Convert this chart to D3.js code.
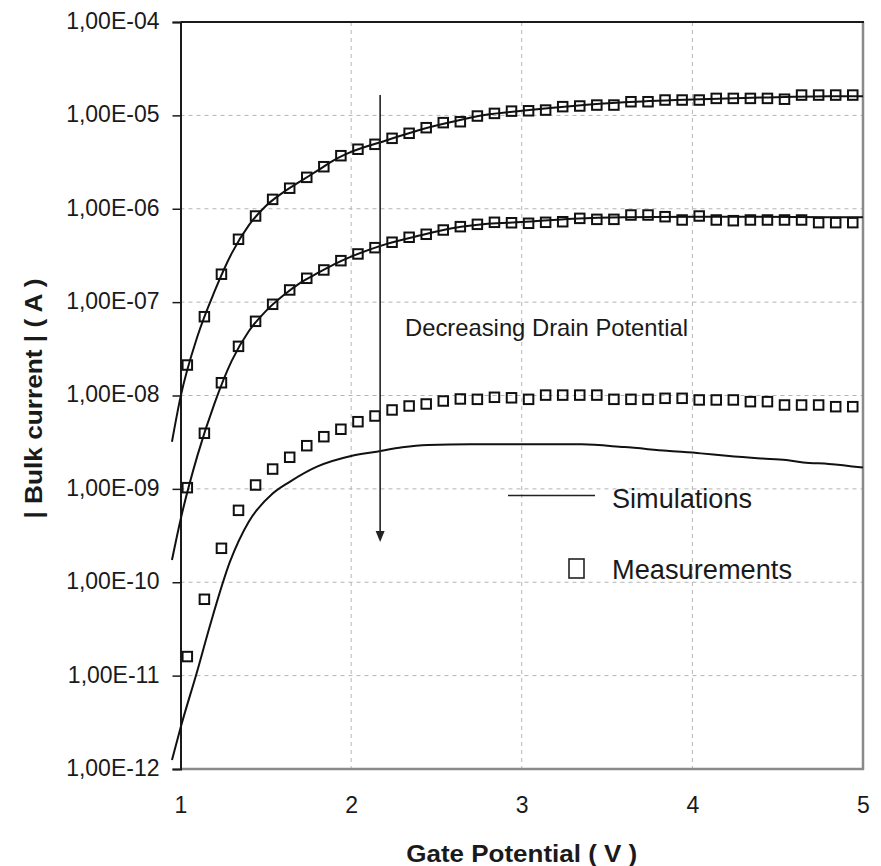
<!DOCTYPE html>
<html>
<head>
<meta charset="utf-8">
<script src="https://cdn.jsdelivr.net/npm/d3@7"></script>
<style>
  body { margin: 0; background: #fff; }
  svg { display: block; }
  text { font-family: "Liberation Sans", Arial, sans-serif; fill: #1a1a1a; }
</style>
</head>
<body>
<svg id="chart" width="881" height="866"></svg>
<script>
// ---- tick values and labels ----
const xTickValues = [1, 2, 3, 4, 5];
const yTickValues = [1e-4, 1e-5, 1e-6, 1e-7, 1e-8, 1e-9, 1e-10, 1e-11, 1e-12];
const yTickLabels = ["1,00E-04", "1,00E-05", "1,00E-06", "1,00E-07", "1,00E-08",
                     "1,00E-09", "1,00E-10", "1,00E-11", "1,00E-12"];

// ---- measured bulk current (A) vs gate potential (V) ----
const measGate = [1.04, 1.14, 1.24, 1.34, 1.44, 1.54, 1.64, 1.74, 1.84, 1.94,
                  2.04, 2.14, 2.24, 2.34, 2.44, 2.54, 2.64, 2.74, 2.84, 2.94,
                  3.04, 3.14, 3.24, 3.34, 3.44, 3.54, 3.64, 3.74, 3.84, 3.94,
                  4.04, 4.14, 4.24, 4.34, 4.44, 4.54, 4.64, 4.74, 4.84, 4.94];
const measHigh = [2.12e-8, 6.98e-8, 1.99e-7, 4.71e-7, 8.36e-7, 1.26e-6, 1.66e-6, 2.17e-6, 2.82e-6, 3.70e-6,
                  4.34e-6, 4.90e-6, 5.68e-6, 6.43e-6, 7.38e-6, 8.36e-6, 8.55e-6, 9.84e-6, 1.05e-5, 1.11e-5,
                  1.12e-5, 1.14e-5, 1.24e-5, 1.26e-5, 1.29e-5, 1.29e-5, 1.40e-5, 1.40e-5, 1.46e-5, 1.46e-5,
                  1.46e-5, 1.52e-5, 1.52e-5, 1.52e-5, 1.52e-5, 1.49e-5, 1.65e-5, 1.65e-5, 1.65e-5, 1.65e-5];
const measMid  = [1.03e-9, 3.94e-9, 1.37e-8, 3.36e-8, 6.23e-8, 9.48e-8, 1.35e-7, 1.80e-7, 2.21e-7, 2.78e-7,
                  3.28e-7, 3.83e-7, 4.38e-7, 4.95e-7, 5.33e-7, 5.92e-7, 6.43e-7, 6.81e-7, 7.16e-7, 7.08e-7,
                  6.99e-7, 7.16e-7, 7.26e-7, 7.89e-7, 7.70e-7, 7.70e-7, 8.57e-7, 8.57e-7, 8.22e-7, 7.58e-7,
                  8.36e-7, 7.58e-7, 7.45e-7, 7.58e-7, 7.58e-7, 7.58e-7, 7.58e-7, 7.10e-7, 7.10e-7, 7.10e-7];
const measLow  = [1.60e-11, 6.57e-11, 2.31e-10, 5.89e-10, 1.10e-9, 1.63e-9, 2.18e-9, 2.90e-9, 3.62e-9, 4.35e-9,
                  5.24e-9, 6.03e-9, 7.00e-9, 7.72e-9, 8.11e-9, 8.73e-9, 9.18e-9, 9.10e-9, 9.57e-9, 9.45e-9,
                  9.10e-9, 1.01e-8, 1.01e-8, 1.01e-8, 1.01e-8, 9.10e-9, 9.10e-9, 9.10e-9, 9.33e-9, 9.33e-9,
                  8.96e-9, 8.96e-9, 8.96e-9, 8.59e-9, 8.59e-9, 7.91e-9, 7.91e-9, 7.91e-9, 7.59e-9, 7.59e-9];

// ---- simulated bulk current (A) ----
const simGate = [0.95, 1.0, 1.1, 1.2, 1.3, 1.4, 1.5, 1.6, 1.7, 1.8, 1.9, 2.0,
                 2.2, 2.4, 2.6, 2.8, 3.0, 3.3, 3.6, 4.0, 4.4, 4.8, 5.0];
const simHigh = [3.2e-9, 9.6e-9, 4.34e-8, 1.31e-7, 3.33e-7, 6.64e-7, 1.07e-6, 1.49e-6, 1.95e-6, 2.54e-6, 3.32e-6, 4.06e-6,
                 5.35e-6, 6.98e-6, 8.6e-6, 1.02e-5, 1.12e-5, 1.26e-5, 1.38e-5, 1.48e-5, 1.55e-5, 1.6e-5, 1.6e-5];
const simMid  = [1.73e-10, 4.65e-10, 2.30e-9, 8.3e-9, 2.35e-8, 4.88e-8, 8.02e-8, 1.17e-7, 1.60e-7, 2.03e-7, 2.54e-7, 3.07e-7,
                 4.15e-7, 5.16e-7, 6.22e-7, 6.9e-7, 7.2e-7, 7.8e-7, 8.1e-7, 8.2e-7, 8.2e-7, 8.1e-7, 8.1e-7];
const simLowGate = [0.95, 1.0, 1.1, 1.17, 1.29, 1.4, 1.54, 1.64, 1.8, 2.0, 2.15, 2.3, 2.45,
                    2.7, 3.0, 3.35, 3.6, 3.85, 4.05, 4.2, 4.4, 4.55, 4.65, 4.8, 5.0];
const simLow  = [1.25e-12, 2.75e-12, 1.15e-11, 3.3e-11, 1.66e-10, 4.45e-10, 8.9e-10, 1.19e-9, 1.73e-9, 2.25e-9, 2.5e-9, 2.79e-9, 2.95e-9,
                 3.0e-9, 3.0e-9, 3.0e-9, 2.8e-9, 2.56e-9, 2.4e-9, 2.26e-9, 2.12e-9, 2.04e-9, 1.92e-9, 1.85e-9, 1.69e-9];

// ---- "decreasing drain potential" arrow, in data units ----
const arrowGate = 2.17;
const arrowFrom = 1.65e-5;
const arrowTo = 2.7e-10;

// ---- layout ----
const plot = { left: 180.5, right: 863, top: 22, bottom: 769 };
const svg = d3.select("#chart");

const x = d3.scaleLinear().domain([1, 5]).range([plot.left, plot.right]);
const y = d3.scaleLog().domain([1e-12, 1e-4]).range([plot.bottom, plot.top]);

// grid
const grid = svg.append("g").attr("stroke", "#b4b4b4").attr("stroke-width", 1)
  .attr("stroke-dasharray", "4,4");
grid.selectAll("line.h").data(yTickValues.slice(1, -1)).join("line")
  .attr("x1", plot.left).attr("x2", plot.right)
  .attr("y1", d => y(d)).attr("y2", d => y(d));
grid.selectAll("line.v").data(xTickValues.slice(1, -1)).join("line")
  .attr("y1", plot.top).attr("y2", plot.bottom)
  .attr("x1", d => x(d)).attr("x2", d => x(d));

// plot frame: gray right/bottom, black left/top
svg.append("line").attr("x1", plot.right).attr("x2", plot.right)
  .attr("y1", plot.top).attr("y2", plot.bottom + 1)
  .attr("stroke", "#8a8a8a").attr("stroke-width", 2.5);
svg.append("line").attr("x1", plot.left).attr("x2", plot.right + 1)
  .attr("y1", plot.bottom).attr("y2", plot.bottom)
  .attr("stroke", "#8a8a8a").attr("stroke-width", 2.5);
svg.append("line").attr("x1", plot.left).attr("x2", plot.right + 1)
  .attr("y1", plot.top).attr("y2", plot.top)
  .attr("stroke", "#1a1a1a").attr("stroke-width", 2);

// y axis
const yAxis = d3.axisLeft(y).tickValues(yTickValues)
  .tickFormat((d, i) => yTickLabels[i]).tickSize(8).tickPadding(13);
const gy = svg.append("g").attr("transform", `translate(${plot.left},0)`).call(yAxis);
gy.select(".domain").attr("stroke", "#1a1a1a").attr("stroke-width", 2);
gy.selectAll(".tick line").attr("stroke", "#1a1a1a").attr("stroke-width", 1.5);
gy.selectAll(".tick text").attr("font-size", 23).attr("font-family", null)
  .attr("fill", "#1a1a1a").attr("dy", "0.28em");

// x axis (labels only)
const xAxis = d3.axisBottom(x).tickValues(xTickValues).tickFormat(d3.format("d"))
  .tickSize(0).tickPadding(28);
const gx = svg.append("g").attr("transform", `translate(0,${plot.bottom})`).call(xAxis);
gx.select(".domain").remove();
gx.selectAll(".tick text").attr("font-size", 23).attr("font-family", null).attr("fill", "#1a1a1a");

// axis titles
svg.append("text")
  .attr("x", (plot.left + plot.right) / 2).attr("y", 862)
  .attr("text-anchor", "middle").attr("font-size", 24).attr("font-weight", "bold")
  .attr("textLength", 231).attr("lengthAdjust", "spacingAndGlyphs")
  .text("Gate Potential ( V )");
svg.append("text")
  .attr("transform", `translate(42,${(plot.top + plot.bottom) / 2 + 3}) rotate(-90)`)
  .attr("text-anchor", "middle").attr("font-size", 24).attr("font-weight", "bold")
  .attr("textLength", 240).attr("lengthAdjust", "spacingAndGlyphs")
  .text("| Bulk current |  ( A )");

// simulation curves
const simLine = d3.line().x(d => x(d[0])).y(d => y(d[1])).curve(d3.curveMonotoneX);
const simSeries = [
  d3.zip(simGate, simHigh),
  d3.zip(simGate, simMid),
  d3.zip(simLowGate, simLow)
];
svg.append("g").selectAll("path").data(simSeries).join("path")
  .attr("d", simLine).attr("fill", "none")
  .attr("stroke", "#111").attr("stroke-width", 2);

// measurement squares
const sq = 9.5;
const measSeries = [measHigh, measMid, measLow];
svg.append("g").selectAll("g").data(measSeries).join("g")
  .selectAll("rect").data(vals => vals.map((v, i) => [measGate[i], v])).join("rect")
  .attr("x", d => x(d[0]) - sq / 2).attr("y", d => y(d[1]) - sq / 2)
  .attr("width", sq).attr("height", sq)
  .attr("fill", "none").attr("stroke", "#111").attr("stroke-width", 2);

// arrow
svg.append("defs").append("marker")
  .attr("id", "head").attr("viewBox", "0 0 10 12").attr("refX", 5).attr("refY", 12)
  .attr("markerWidth", 9).attr("markerHeight", 11).attr("markerUnits", "userSpaceOnUse")
  .attr("orient", "auto-start-reverse")
  .append("path").attr("d", "M0,0 L10,0 L5,12 Z").attr("fill", "#222");
svg.append("line")
  .attr("x1", x(arrowGate)).attr("x2", x(arrowGate))
  .attr("y1", y(arrowFrom)).attr("y2", y(arrowTo) - 10)
  .attr("stroke", "#222").attr("stroke-width", 1.6);
svg.append("path")
  .attr("d", `M${x(arrowGate) - 4.5},${y(arrowTo) - 11} L${x(arrowGate) + 4.5},${y(arrowTo) - 11} L${x(arrowGate)},${y(arrowTo)} Z`)
  .attr("fill", "#222");

svg.append("text").attr("x", 405).attr("y", 336)
  .attr("font-size", 24).attr("textLength", 283).attr("lengthAdjust", "spacingAndGlyphs")
  .text("Decreasing Drain Potential");

// legend
const legend = svg.append("g");
legend.append("line").attr("x1", 508).attr("x2", 595).attr("y1", 495.5).attr("y2", 495.5)
  .attr("stroke", "#222").attr("stroke-width", 1.5);
legend.append("text").attr("x", 612).attr("y", 508).attr("font-size", 27)
  .attr("textLength", 140).attr("lengthAdjust", "spacingAndGlyphs").text("Simulations");
legend.append("rect").attr("x", 569).attr("y", 559).attr("width", 15).attr("height", 19)
  .attr("fill", "none").attr("stroke", "#222").attr("stroke-width", 1.6);
legend.append("text").attr("x", 612).attr("y", 579).attr("font-size", 27)
  .attr("textLength", 180).attr("lengthAdjust", "spacingAndGlyphs").text("Measurements");
</script>
</body>
</html>
